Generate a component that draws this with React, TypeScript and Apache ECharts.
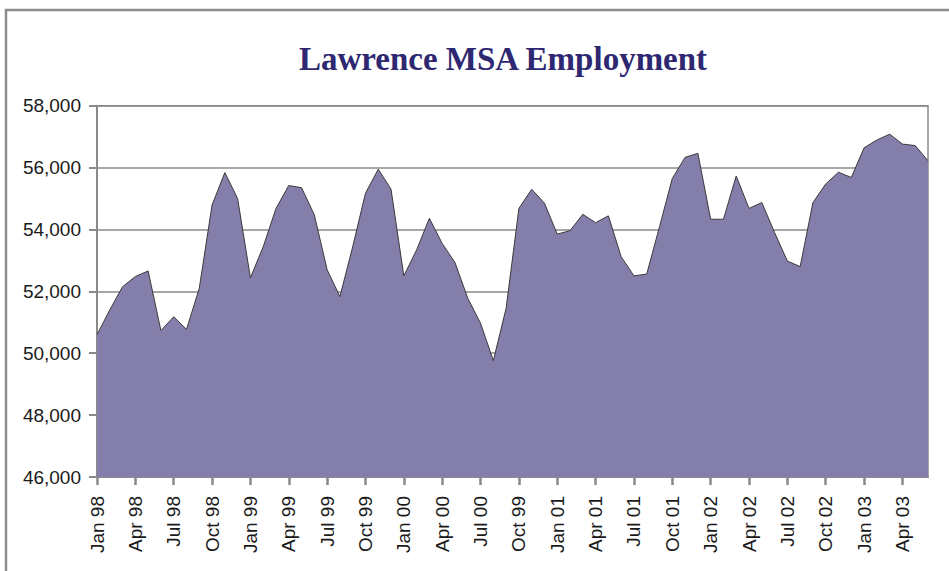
import React, { useEffect, useRef } from "react";
import * as echarts from "echarts";

const titleText = "Lawrence MSA Employment";

const months = [
  "Jan 98", "Feb 98", "Mar 98", "Apr 98", "May 98", "Jun 98", "Jul 98", "Aug 98", "Sep 98", "Oct 98", "Nov 98", "Dec 98",
  "Jan 99", "Feb 99", "Mar 99", "Apr 99", "May 99", "Jun 99", "Jul 99", "Aug 99", "Sep 99", "Oct 99", "Nov 99", "Dec 99",
  "Jan 00", "Feb 00", "Mar 00", "Apr 00", "May 00", "Jun 00", "Jul 00", "Aug 00", "Sep 00", "Oct 00", "Nov 00", "Dec 00",
  "Jan 01", "Feb 01", "Mar 01", "Apr 01", "May 01", "Jun 01", "Jul 01", "Aug 01", "Sep 01", "Oct 01", "Nov 01", "Dec 01",
  "Jan 02", "Feb 02", "Mar 02", "Apr 02", "May 02", "Jun 02", "Jul 02", "Aug 02", "Sep 02", "Oct 02", "Nov 02", "Dec 02",
  "Jan 03", "Feb 03", "Mar 03", "Apr 03", "May 03", "Jun 03",
];

// Quarterly tick labels as printed on the original (including its "Oct 99" at the Oct 00 position)
const tickLabels = [
  "Jan 98", "Apr 98", "Jul 98", "Oct 98",
  "Jan 99", "Apr 99", "Jul 99", "Oct 99",
  "Jan 00", "Apr 00", "Jul 00", "Oct 99",
  "Jan 01", "Apr 01", "Jul 01", "Oct 01",
  "Jan 02", "Apr 02", "Jul 02", "Oct 02",
  "Jan 03", "Apr 03",
];

const employment = [
  50600, 51400, 52150, 52480, 52660, 50730, 51180, 50770, 52100, 54790, 55840, 55000,
  52440, 53440, 54680, 55420, 55350, 54470, 52700, 51830, 53440, 55170, 55950, 55300,
  52500, 53340, 54360, 53550, 52930, 51780, 50970, 49760, 51450, 54680, 55300, 54850,
  53850, 53960, 54490, 54220, 54440, 53120, 52500, 52560, 54090, 55650, 56330, 56460,
  54330, 54330, 55730, 54680, 54870, 53900, 52980, 52800, 54870, 55470, 55850, 55680,
  56640, 56890, 57080, 56760, 56710, 56220,
];

export default function App() {
  const ref = useRef<HTMLDivElement>(null);

  useEffect(() => {
    if (!ref.current) return;
    const chart = echarts.init(ref.current, undefined, { renderer: "svg" });
    const quarterly = (index: number) => index % 3 === 0;
    chart.setOption({
      animation: false,
      backgroundColor: "#ffffff",
      graphic: [
        {
          type: "rect",
          shape: { x: 6, y: 10, width: 1000, height: 1000 },
          style: { fill: "none", stroke: "#8c8c8c", lineWidth: 2.5 },
          silent: true,
        },
        {
          type: "text",
          x: 503,
          y: 59,
          style: {
            text: titleText,
            fill: "#2e2872",
            font: "bold 33px 'Liberation Serif', 'DejaVu Serif', serif",
            align: "center",
            verticalAlign: "middle",
          },
        },
      ],
      grid: {
        left: 97,
        right: 21,
        top: 105.7,
        bottom: 94,
        show: true,
        borderColor: "#8a8a8a",
        borderWidth: 1.5,
        backgroundColor: "transparent",
      },
      xAxis: {
        type: "category",
        data: months,
        boundaryGap: false,
        axisLine: { show: true, lineStyle: { color: "#8a8a8a", width: 2 } },
        axisTick: {
          show: true,
          interval: (index: number) => quarterly(index),
          length: 8,
          lineStyle: { color: "#8a8a8a", width: 2.5 },
        },
        axisLabel: {
          interval: (index: number) => quarterly(index),
          rotate: 90,
          margin: 19,
          color: "#1a1a1a",
          fontSize: 19,
          fontFamily: "'Liberation Sans', Arial, sans-serif",
          formatter: (_v: string, index: number) => tickLabels[index / 3] ?? "",
        },
        splitLine: { show: false },
      },
      yAxis: {
        type: "value",
        min: 46000,
        max: 58000,
        interval: 2000,
        axisLine: { show: true, lineStyle: { color: "#8a8a8a", width: 2 } },
        axisTick: { show: true, length: 8, lineStyle: { color: "#8a8a8a", width: 2 } },
        axisLabel: {
          margin: 16,
          color: "#1a1a1a",
          fontSize: 19,
          fontFamily: "'Liberation Sans', Arial, sans-serif",
          formatter: (v: number) => v.toLocaleString("en-US"),
        },
        splitLine: { show: true, lineStyle: { color: "#8a8a8a", width: 1.5 } },
      },
      series: [
        {
          type: "line",
          data: employment,
          showSymbol: false,
          symbol: "none",
          lineStyle: { color: "#3a3a3a", width: 1 },
          areaStyle: { color: "#847eab", opacity: 1, origin: "start" },
          z: 3,
        },
      ],
    });
    return () => chart.dispose();
  }, []);

  return (
    <div
      ref={ref}
      style={{ position: "fixed", left: 0, top: 0, width: 949, height: 571 }}
    />
  );
}
